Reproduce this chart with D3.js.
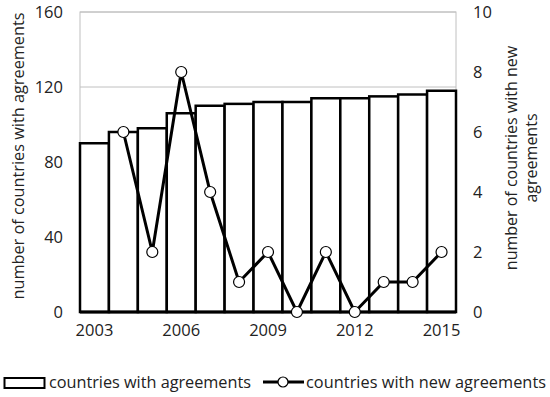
<!DOCTYPE html>
<html>
<head>
<meta charset="utf-8">
<script src="https://cdn.jsdelivr.net/npm/d3@7"></script>
<style>
  body { margin: 0; background: #fff; }
  svg, svg text { font-family: "Open Sans", sans-serif; }
  .tick text { font-size: 16.5px; fill: #222; font-family: "Open Sans", sans-serif; }
</style>
</head>
<body>
<svg id="chart" width="550" height="397"></svg>
<script>
// data
var years = [2003, 2004, 2005, 2006, 2007, 2008, 2009, 2010, 2011, 2012, 2013, 2014, 2015];
var withAgreements = [90, 96, 98, 106, 110, 111, 112, 112, 114, 114, 115, 116, 118];
var newAgreements = [null, 6, 2, 8, 4, 1, 2, 0, 2, 0, 1, 1, 2];
var leftTicks = [0, 40, 80, 120, 160];
var rightTicks = [0, 2, 4, 6, 8, 10];
var yearTicks = [2003, 2006, 2009, 2012, 2015];

var svg = d3.select("#chart");
var pL = 80, pR = 456, pT = 12, pB = 312;

var x = d3.scaleBand().domain(years).range([pL, pR]).padding(0);
var yL = d3.scaleLinear().domain([0, 160]).range([pB, pT]);
var yR = d3.scaleLinear().domain([0, 10]).range([pB, pT]);

// light grid + plot border
svg.append("g").selectAll("line")
    .data(leftTicks.filter(function(d) { return d > 0; }))
    .enter().append("line")
    .attr("x1", pL).attr("x2", pR)
    .attr("y1", function(d) { return yL(d); })
    .attr("y2", function(d) { return yL(d); })
    .attr("stroke", "#c0c0c0").attr("stroke-width", 1);
svg.append("rect")
    .attr("x", pL).attr("y", pT)
    .attr("width", pR - pL).attr("height", pB - pT)
    .attr("fill", "none").attr("stroke", "#c0c0c0").attr("stroke-width", 1);

// bars
svg.append("g").selectAll("rect")
    .data(years)
    .enter().append("rect")
    .attr("x", function(d) { return x(d); })
    .attr("y", function(d, i) { return yL(withAgreements[i]); })
    .attr("width", x.bandwidth())
    .attr("height", function(d, i) { return pB - yL(withAgreements[i]); })
    .attr("fill", "#fff").attr("stroke", "#000").attr("stroke-width", 2.5);

// bottom axis line
svg.append("line")
    .attr("x1", pL).attr("x2", pR).attr("y1", pB).attr("y2", pB)
    .attr("stroke", "#000").attr("stroke-width", 3);

// axes
var axL = svg.append("g").attr("transform", "translate(" + pL + ",0)")
    .call(d3.axisLeft(yL).tickValues(leftTicks).tickSize(0).tickPadding(17));
axL.select(".domain").remove();

var axR = svg.append("g").attr("transform", "translate(" + pR + ",0)")
    .call(d3.axisRight(yR).tickValues(rightTicks).tickSize(0).tickPadding(17));
axR.select(".domain").remove();

var axB = svg.append("g").attr("transform", "translate(0," + pB + ")")
    .call(d3.axisBottom(x).tickValues(yearTicks).tickSize(0).tickPadding(12));
axB.select(".domain").remove();

// line series
var pts = years.map(function(d, i) { return { year: d, v: newAgreements[i] }; })
    .filter(function(d) { return d.v !== null; });
var line = d3.line()
    .x(function(d) { return x(d.year) + x.bandwidth() / 2; })
    .y(function(d) { return yR(d.v); });
svg.append("path").datum(pts)
    .attr("d", line)
    .attr("fill", "none").attr("stroke", "#000").attr("stroke-width", 3)
    .attr("stroke-linejoin", "miter");
svg.append("g").selectAll("circle")
    .data(pts)
    .enter().append("circle")
    .attr("cx", function(d) { return x(d.year) + x.bandwidth() / 2; })
    .attr("cy", function(d) { return yR(d.v); })
    .attr("r", 5.5)
    .attr("fill", "#fff").attr("stroke", "#000").attr("stroke-width", 1.2);

// axis titles (both read bottom to top)
svg.append("text")
    .attr("transform", "translate(24,156) rotate(-90)")
    .attr("text-anchor", "middle")
    .style("font-size", "16.3px").attr("fill", "#222")
    .text("number of countries with agreements");
var rt = svg.append("text")
    .attr("transform", "translate(517,158) rotate(-90)")
    .attr("text-anchor", "middle")
    .style("font-size", "16px").attr("fill", "#222");
rt.append("tspan").attr("x", 0).attr("dy", 0).text("number of countries with new");
rt.append("tspan").attr("x", 0).attr("dy", 20).text("agreements");

// legend
var lg = svg.append("g");
lg.append("rect").attr("x", 4.5).attr("y", 378).attr("width", 40).attr("height", 10)
    .attr("fill", "#fff").attr("stroke", "#000").attr("stroke-width", 2);
lg.append("text").attr("x", 49).attr("y", 388).style("font-size", "16.3px").attr("fill", "#222")
    .attr("textLength", 202).attr("lengthAdjust", "spacing")
    .text("countries with agreements");
lg.append("line").attr("x1", 263).attr("x2", 304).attr("y1", 382).attr("y2", 382)
    .attr("stroke", "#000").attr("stroke-width", 3);
lg.append("circle").attr("cx", 283).attr("cy", 382).attr("r", 5)
    .attr("fill", "#fff").attr("stroke", "#000").attr("stroke-width", 1.2);
lg.append("text").attr("x", 306).attr("y", 388).style("font-size", "16.3px").attr("fill", "#222")
    .attr("textLength", 240).attr("lengthAdjust", "spacing")
    .text("countries with new agreements");
</script>
</body>
</html>
